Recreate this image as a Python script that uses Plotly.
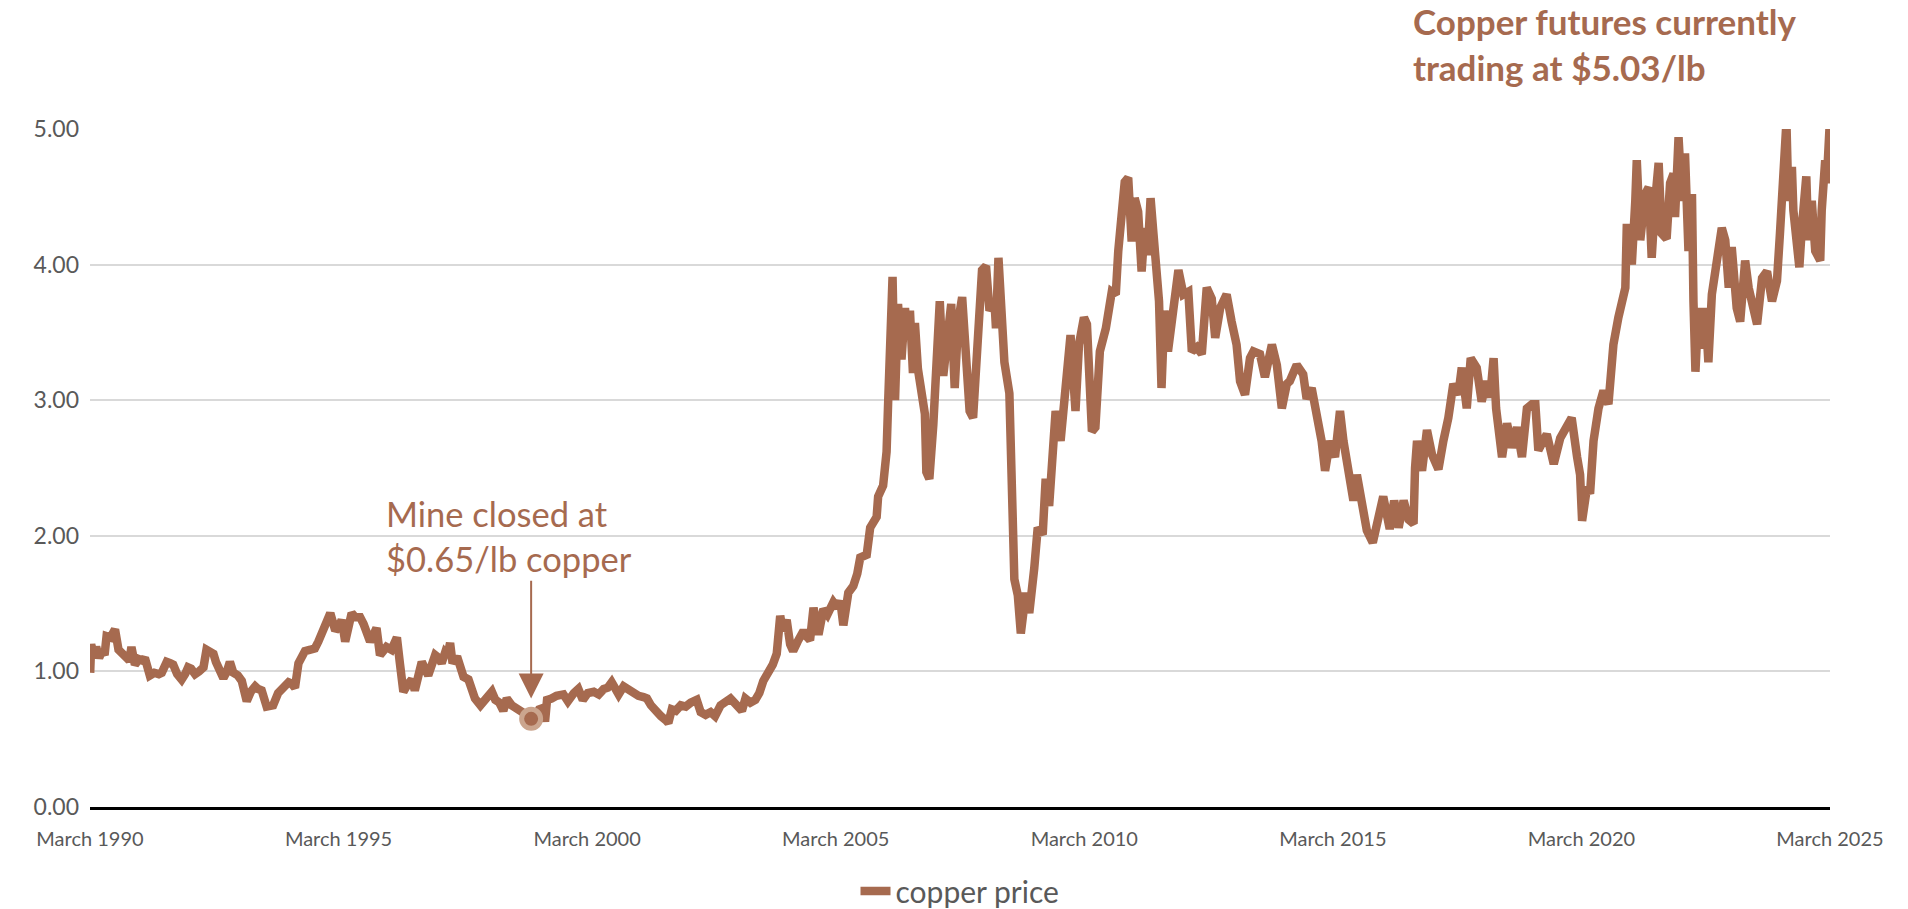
import plotly.graph_objects as go

# Copper price, US$/lb, sampled along the series (decimal years)
years = [
    1990.17, 1990.19, 1990.24, 1990.29, 1990.35, 1990.41, 1990.46, 1990.50, 1990.58, 1990.67,
    1990.74, 1990.82, 1990.90, 1990.96, 1991.00, 1991.07, 1991.15, 1991.22, 1991.27, 1991.37,
    1991.46, 1991.55, 1991.61, 1991.71, 1991.78, 1991.84, 1991.92, 1992.01, 1992.08, 1992.14,
    1992.20, 1992.28, 1992.36, 1992.45, 1992.51, 1992.58, 1992.65, 1992.70, 1992.75, 1992.85,
    1992.92, 1992.98, 1993.05, 1993.14, 1993.22, 1993.32, 1993.40, 1993.49, 1993.55, 1993.62,
    1993.72, 1993.80, 1993.85, 1993.95, 1994.05, 1994.16, 1994.22, 1994.29, 1994.36, 1994.42,
    1994.49, 1994.60, 1994.69, 1994.76, 1994.83, 1994.92, 1995.00, 1995.05, 1995.10, 1995.17,
    1995.23, 1995.30, 1995.36, 1995.43, 1995.50, 1995.60, 1995.67, 1995.73, 1995.80, 1995.87,
    1995.93, 1996.00, 1996.07, 1996.13, 1996.23, 1996.30, 1996.34, 1996.40, 1996.47, 1996.55,
    1996.64, 1996.70, 1996.77, 1996.84, 1996.97, 1997.04, 1997.11, 1997.18, 1997.24, 1997.31,
    1997.36, 1997.41, 1997.46, 1997.55, 1997.62, 1997.68, 1997.78, 1997.85, 1997.91, 1998.02,
    1998.10, 1998.18, 1998.25, 1998.32, 1998.40, 1998.48, 1998.55, 1998.65, 1998.75, 1998.85,
    1998.95, 1999.04, 1999.12, 1999.20, 1999.28, 1999.32, 1999.36, 1999.45, 1999.55, 1999.69,
    1999.78, 1999.90, 1999.99, 2000.08, 2000.18, 2000.30, 2000.40, 2000.50, 2000.58, 2000.66,
    2000.75, 2000.80, 2000.90, 2001.00, 2001.10, 2001.20, 2001.30, 2001.37, 2001.45, 2001.55,
    2001.65, 2001.75, 2001.80, 2001.87, 2001.95, 2002.05, 2002.15, 2002.25, 2002.37, 2002.45,
    2002.55, 2002.65, 2002.74, 2002.85, 2002.95, 2003.05, 2003.15, 2003.28, 2003.35, 2003.45,
    2003.55, 2003.63, 2003.71, 2003.80, 2003.90, 2003.98, 2004.03, 2004.05, 2004.10, 2004.18,
    2004.25, 2004.31, 2004.40, 2004.52, 2004.60, 2004.65, 2004.72, 2004.77, 2004.82, 2004.92,
    2005.00, 2005.12, 2005.20, 2005.26, 2005.32, 2005.42, 2005.52, 2005.60, 2005.66, 2005.79,
    2005.86, 2005.99, 2006.02, 2006.12, 2006.19, 2006.22, 2006.25, 2006.31, 2006.36, 2006.42,
    2006.49, 2006.56, 2006.61, 2006.66, 2006.72, 2006.76, 2006.82, 2006.89, 2006.96, 2006.99,
    2007.05, 2007.13, 2007.19, 2007.26, 2007.33, 2007.39, 2007.49, 2007.56, 2007.63, 2007.71,
    2007.79, 2007.86, 2007.93, 2007.99, 2008.06, 2008.11, 2008.19, 2008.26, 2008.36, 2008.39,
    2008.44, 2008.49, 2008.56, 2008.66, 2008.69, 2008.73, 2008.76, 2008.83, 2008.89, 2008.99,
    2009.06, 2009.16, 2009.23, 2009.33, 2009.39, 2009.46, 2009.53, 2009.59, 2009.69, 2009.76,
    2009.83, 2009.89, 2009.99, 2010.06, 2010.16, 2010.22, 2010.32, 2010.39, 2010.48, 2010.60,
    2010.72, 2010.80, 2010.85, 2010.92, 2010.98, 2011.05, 2011.12, 2011.18, 2011.25, 2011.32,
    2011.38, 2011.44, 2011.50, 2011.56, 2011.62, 2011.67, 2011.72, 2011.78, 2011.85, 2011.95,
    2012.06, 2012.16, 2012.26, 2012.33, 2012.43, 2012.53, 2012.63, 2012.73, 2012.80, 2012.90,
    2013.03, 2013.13, 2013.23, 2013.30, 2013.40, 2013.50, 2013.57, 2013.70, 2013.80, 2013.94,
    2014.04, 2014.14, 2014.24, 2014.30, 2014.44, 2014.57, 2014.64, 2014.74, 2014.84, 2014.94,
    2015.01, 2015.11, 2015.21, 2015.31, 2015.38, 2015.48, 2015.58, 2015.65, 2015.75, 2015.85,
    2015.97, 2016.08, 2016.18, 2016.31, 2016.40, 2016.49, 2016.59, 2016.69, 2016.79, 2016.82,
    2016.86, 2016.96, 2017.06, 2017.16, 2017.29, 2017.39, 2017.49, 2017.59, 2017.69, 2017.76,
    2017.86, 2017.94, 2018.06, 2018.16, 2018.26, 2018.33, 2018.40, 2018.45, 2018.50, 2018.57,
    2018.67, 2018.77, 2018.87, 2018.97, 2019.07, 2019.17, 2019.24, 2019.30, 2019.47, 2019.61,
    2019.74, 2019.84, 2019.97, 2020.08, 2020.14, 2020.18, 2020.28, 2020.34, 2020.41, 2020.51,
    2020.61, 2020.71, 2020.81, 2020.91, 2020.98, 2021.05, 2021.08, 2021.18, 2021.25, 2021.28,
    2021.35, 2021.45, 2021.52, 2021.58, 2021.65, 2021.72, 2021.78, 2021.88, 2021.95, 2022.02,
    2022.05, 2022.12, 2022.19, 2022.25, 2022.32, 2022.39, 2022.42, 2022.46, 2022.52, 2022.59,
    2022.66, 2022.72, 2022.79, 2022.86, 2022.92, 2022.99, 2023.06, 2023.13, 2023.19, 2023.29,
    2023.36, 2023.46, 2023.53, 2023.63, 2023.70, 2023.80, 2023.90, 2024.00, 2024.10, 2024.16,
    2024.23, 2024.29, 2024.33, 2024.40, 2024.43, 2024.50, 2024.55, 2024.60, 2024.69, 2024.73,
    2024.80, 2024.87, 2024.97, 2025.00, 2025.07, 2025.10, 2025.16,
]

price = [
    0.99, 1.20, 1.11, 1.18, 1.10, 1.15, 1.12, 1.26, 1.25, 1.31,
    1.16, 1.13, 1.10, 1.08, 1.18, 1.05, 1.09, 1.08, 1.10, 0.97,
    0.99, 0.98, 0.99, 1.07, 1.06, 1.05, 0.98, 0.94, 0.98, 1.03,
    1.02, 0.98, 1.00, 1.03, 1.16, 1.14, 1.13, 1.07, 1.02, 0.95,
    1.00, 1.07, 0.99, 0.97, 0.93, 0.78, 0.85, 0.89, 0.87, 0.86,
    0.74, 0.74, 0.75, 0.84, 0.88, 0.92, 0.91, 0.88, 1.06, 1.10,
    1.15, 1.16, 1.17, 1.22, 1.30, 1.36, 1.43, 1.36, 1.30, 1.33,
    1.38, 1.22, 1.33, 1.43, 1.40, 1.40, 1.35, 1.30, 1.22, 1.27,
    1.32, 1.12, 1.15, 1.18, 1.16, 1.20, 1.25, 1.06, 0.85, 0.90,
    0.94, 0.86, 0.95, 1.07, 0.97, 1.06, 1.12, 1.10, 1.06, 1.14,
    1.12, 1.21, 1.06, 1.11, 1.00, 0.96, 0.94, 0.88, 0.80, 0.75,
    0.78, 0.82, 0.85, 0.79, 0.77, 0.71, 0.80, 0.75, 0.73, 0.71,
    0.68, 0.65, 0.66, 0.72, 0.73, 0.63, 0.79, 0.80, 0.82, 0.83,
    0.78, 0.84, 0.87, 0.79, 0.84, 0.85, 0.83, 0.87, 0.88, 0.92,
    0.87, 0.83, 0.89, 0.86, 0.85, 0.82, 0.81, 0.80, 0.75, 0.70,
    0.67, 0.64, 0.62, 0.72, 0.71, 0.75, 0.74, 0.77, 0.79, 0.70,
    0.68, 0.70, 0.67, 0.75, 0.78, 0.80, 0.76, 0.71, 0.80, 0.77,
    0.79, 0.84, 0.93, 0.98, 1.05, 1.13, 1.26, 1.41, 1.30, 1.38,
    1.20, 1.15, 1.22, 1.30, 1.25, 1.23, 1.47, 1.30, 1.27, 1.46,
    1.42, 1.51, 1.47, 1.52, 1.34, 1.58, 1.63, 1.72, 1.84, 1.86,
    2.06, 2.14, 2.29, 2.37, 2.62, 2.97, 3.48, 3.91, 3.00, 3.71,
    3.30, 3.68, 3.45, 3.66, 3.20, 3.57, 3.23, 3.05, 2.90, 2.47,
    2.42, 2.82, 3.41, 3.73, 3.18, 3.41, 3.71, 3.09, 3.58, 3.76,
    3.25, 2.92, 2.87, 3.28, 3.56, 3.96, 3.99, 3.66, 3.73, 3.53,
    4.05, 3.56, 3.28, 3.05, 2.47, 2.09, 1.68, 1.56, 1.28, 1.58,
    1.43, 1.76, 2.06, 2.01, 2.42, 2.22, 2.72, 2.92, 2.70, 3.03,
    3.23, 3.48, 2.92, 3.41, 3.61, 3.56, 2.77, 2.80, 3.36, 3.53,
    3.80, 3.78, 4.10, 4.44, 4.61, 4.64, 4.17, 4.49, 4.39, 3.95,
    4.27, 4.07, 4.49, 4.22, 3.93, 3.73, 3.09, 3.66, 3.36, 3.61,
    3.96, 3.78, 3.80, 3.36, 3.39, 3.34, 3.83, 3.75, 3.46, 3.68,
    3.78, 3.58, 3.41, 3.14, 3.04, 3.31, 3.36, 3.34, 3.17, 3.41,
    3.26, 2.94, 3.12, 3.14, 3.26, 3.19, 3.01, 3.09, 2.90, 2.70,
    2.48, 2.70, 2.58, 2.92, 2.70, 2.50, 2.26, 2.45, 2.28, 2.04,
    1.95, 2.16, 2.29, 2.05, 2.26, 2.06, 2.26, 2.12, 2.09, 2.50,
    2.70, 2.48, 2.78, 2.60, 2.49, 2.70, 2.87, 3.12, 3.04, 3.24,
    2.94, 3.31, 3.24, 2.99, 3.14, 3.02, 3.31, 2.94, 2.72, 2.58,
    2.83, 2.65, 2.80, 2.58, 2.94, 2.97, 2.97, 2.63, 2.75, 2.53,
    2.72, 2.80, 2.87, 2.58, 2.45, 2.11, 2.36, 2.31, 2.70, 2.94,
    3.07, 2.97, 3.41, 3.61, 3.73, 3.83, 4.30, 4.00, 4.47, 4.77,
    4.18, 4.52, 4.57, 4.05, 4.47, 4.75, 4.23, 4.19, 4.60, 4.67,
    4.35, 4.94, 4.47, 4.82, 4.10, 4.52, 3.73, 3.21, 3.68, 3.38,
    3.68, 3.28, 3.78, 3.93, 4.13, 4.27, 4.18, 3.83, 4.13, 3.68,
    3.58, 4.03, 3.83, 3.68, 3.56, 3.90, 3.95, 3.73, 3.88, 4.23,
    4.60, 5.05, 4.47, 4.72, 4.40, 4.18, 3.98, 4.27, 4.65, 4.18,
    4.47, 4.10, 4.03, 4.40, 4.77, 4.60, 5.03,
]

# Mine closure point
closure_year = [1999.04]
closure_price = [0.65]

tick_years = [1990, 1995, 2000, 2005, 2010, 2015, 2020, 2025]
tick_pos = [y + 2 / 12 for y in tick_years]
tick_text = [f"March {y}" for y in tick_years]

COPPER = "#A66A4F"
TEXT_GREY = "#595959"
FONT = "Lato"

fig = go.Figure()

fig.add_trace(go.Scatter(
    x=years, y=price, mode="lines", name="copper price",
    line=dict(color=COPPER, width=8.5, shape="linear"),
    hoverinfo="skip",
))

fig.add_trace(go.Scatter(
    x=closure_year, y=closure_price, mode="markers", showlegend=False,
    marker=dict(size=19, color=COPPER, line=dict(color="#CBA58E", width=5)),
    hoverinfo="skip",
))

# Arrow pointing at the closure marker
fig.add_annotation(
    x=closure_year[0], y=0.80, ax=closure_year[0], ay=1.68,
    xref="x", yref="y", axref="x", ayref="y",
    text="", showarrow=True, arrowhead=2, arrowsize=2.5, arrowwidth=2,
    arrowcolor=COPPER,
)

fig.add_annotation(
    x=1996.08, y=2.0, xref="x", yref="y", xanchor="left", yanchor="middle",
    text="Mine closed at<br>$0.65/lb copper", showarrow=False, align="left",
    font=dict(family=FONT, size=34.5, color=COPPER),
)

fig.add_annotation(
    x=2016.74, y=1.1247, xref="x", yref="paper", xanchor="left", yanchor="middle",
    text="<b>Copper futures currently<br>trading at $5.03/lb</b>", showarrow=False,
    align="left", font=dict(family=FONT, size=35, color=COPPER),
)

fig.update_layout(
    width=1908, height=909,
    margin=dict(l=90, r=78, t=129, b=102, autoexpand=False),
    paper_bgcolor="white", plot_bgcolor="white",
    font=dict(family=FONT, color=TEXT_GREY),
    showlegend=True,
    legend=dict(
        orientation="h", x=0.5, xanchor="center", y=-0.124, yanchor="middle",
        font=dict(family=FONT, size=30, color=TEXT_GREY),
        bgcolor="rgba(0,0,0,0)",
    ),
    xaxis=dict(
        range=[tick_pos[0], tick_pos[-1]],
        tickmode="array", tickvals=tick_pos, ticktext=tick_text,
        showgrid=False, zeroline=False, automargin=False,
        showline=True, linecolor="black", linewidth=3,
        ticks="", ticklabelstandoff=12,
        tickfont=dict(family=FONT, size=20, color=TEXT_GREY),
    ),
    yaxis=dict(
        range=[0, 5],
        tickmode="array", tickvals=[0, 1, 2, 3, 4, 5], tickformat=".2f",
        showgrid=True, gridcolor="#D9D9D9", gridwidth=2,
        zeroline=False, showline=False, automargin=False,
        ticks="", ticklabelstandoff=10,
        tickfont=dict(family=FONT, size=23, color=TEXT_GREY),
    ),
)

fig.write_html("out.html")
